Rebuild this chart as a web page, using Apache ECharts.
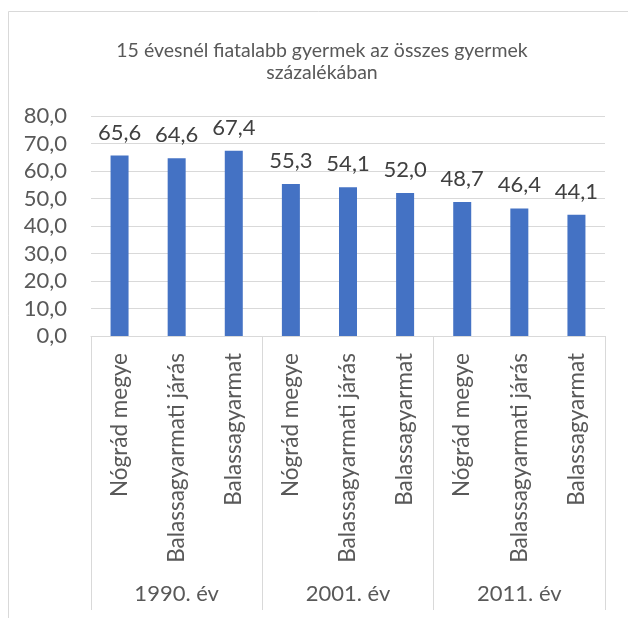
<!DOCTYPE html>
<html>
<head>
<meta charset="utf-8">
<script src="https://cdn.jsdelivr.net/npm/echarts@6/dist/echarts.min.js"></script>
<style>
  html, body { margin: 0; padding: 0; background: #ffffff; }
  #chart { width: 628px; height: 618px; }
</style>
</head>
<body>
<div id="chart"></div>
<script>
// Share of children under 15 among all children, by area and census year
const titleText = '15 évesnél fiatalabb gyermek az összes gyermek\nszázalékában';
const areas = ['Nógrád megye', 'Balassagyarmati járás', 'Balassagyarmat'];
const years = ['1990. év', '2001. év', '2011. év'];
const values1990 = [65.6, 64.6, 67.4];
const values2001 = [55.3, 54.1, 52.0];
const values2011 = [48.7, 46.4, 44.1];
const yMin = 0, yMax = 80, yStep = 10;

const categories = [].concat(areas, areas, areas);
const values = [].concat(values1990, values2001, values2011);

const fmt = v => Number(v).toFixed(1).replace('.', ',');
const FONT = 'Lato';
const GRAY = '#595959';
const LINE = '#d9d9d9';

const chart = echarts.init(document.getElementById('chart'), null, { renderer: 'canvas' });
chart.setOption({
  animation: false,
  backgroundColor: '#ffffff',
  title: {
    text: titleText,
    left: 317,
    top: 35,
    textAlign: 'center',
    textStyle: { fontFamily: FONT, fontSize: 19.5, fontWeight: 'normal', color: GRAY, lineHeight: 22 }
  },
  graphic: [{
    type: 'rect',
    shape: { x: 8.5, y: 11.5, width: 700, height: 700 },
    style: { fill: 'none', stroke: LINE, lineWidth: 1 },
    silent: true
  }],
  grid: { left: 91, right: 23, top: 116, bottom: 282, containLabel: false },
  xAxis: [{
    type: 'category',
    data: categories,
    axisLine: { show: true, lineStyle: { color: LINE, width: 1 } },
    axisTick: { show: false },
    axisLabel: {
      interval: 0, rotate: 90, margin: 17,
      fontFamily: FONT, fontSize: 22.5, color: GRAY
    }
  }, {
    type: 'category',
    data: years,
    position: 'bottom',
    axisLine: { show: false },
    axisTick: { show: true, interval: 0, length: 274, lineStyle: { color: LINE, width: 1 } },
    axisLabel: {
      interval: 0, margin: 247,
      fontFamily: FONT, fontSize: 22, color: GRAY
    }
  }],
  yAxis: {
    type: 'value',
    min: yMin, max: yMax, interval: yStep,
    axisLine: { show: false },
    axisTick: { show: false },
    splitLine: { lineStyle: { color: LINE, width: 1 } },
    axisLabel: {
      margin: 24, formatter: fmt,
      fontFamily: FONT, fontSize: 22, color: GRAY
    }
  },
  series: [{
    type: 'bar',
    xAxisIndex: 0,
    data: values,
    barWidth: 18,
    itemStyle: { color: '#4472C4' },
    label: {
      show: true, position: 'top', distance: 12,
      formatter: p => fmt(p.value),
      fontFamily: FONT, fontSize: 22, color: '#404040'
    }
  }]
});
</script>
</body>
</html>
